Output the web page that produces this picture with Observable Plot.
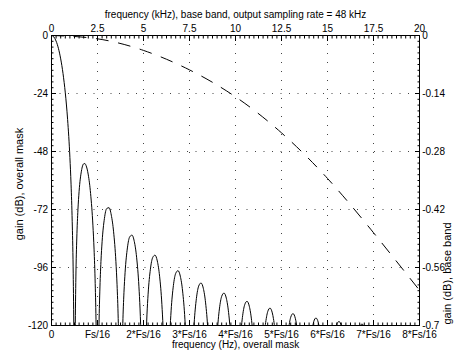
<!DOCTYPE html>
<html><head><meta charset="utf-8">
<script src="https://cdn.jsdelivr.net/npm/d3@7"></script>
<script src="https://cdn.jsdelivr.net/npm/@observablehq/plot@0.6"></script>
<style>body{margin:0;background:#fff}</style>
</head><body><div id="chart"></div>
<script>
// overall mask: frequency in units of Fs/32 (0..16 = 0..Fs/2), gain in dB
const maskU = [
  0,0.1,0.2,0.3,0.4,0.5,0.6,0.7,0.8,0.85,0.9,0.94,0.97,1,
  1.03,1.06,1.1,1.15,1.2,1.3,1.4,1.45,1.5,1.6,1.7,1.8,1.85,1.9,1.94,1.97,2,
  2.03,2.06,2.1,2.15,2.2,2.3,2.4,2.5,2.6,2.7,2.8,2.85,2.9,2.94,3,
  3.06,3.1,3.15,3.2,3.3,3.4,3.5,3.6,3.7,3.8,3.85,3.9,4,
  4.1,4.15,4.2,4.3,4.4,4.5,4.6,4.7,4.8,4.85,4.9,5,
  5.1,5.15,5.2,5.3,5.4,5.5,5.6,5.7,5.8,5.85,6,
  6.15,6.2,6.3,6.4,6.5,6.6,6.7,6.8,6.85,7,
  7.2,7.25,7.3,7.4,7.5,7.6,7.7,7.75,7.8,8,
  8.2,8.25,8.3,8.4,8.5,8.6,8.7,8.75,8.8,9,
  9.25,9.3,9.35,9.4,9.5,9.6,9.65,9.7,9.75,10,
  10.25,10.3,10.35,10.4,10.5,10.6,10.65,10.7,10.75,11,
  11.3,11.35,11.4,11.45,11.5,11.55,11.6,11.65,11.7,12,
  12.3,12.35,12.4,12.45,12.5,12.55,12.6,12.65,12.7,13,
  13.35,13.4,13.45,13.5,13.55,13.6,13.65,14,
  14.5,15,15.5,16
];
const maskDb = [
  0,-0.57,-2.32,-5.30,-9.67,-15.68,-23.75,-34.72,-50.45,-61.52,-76.87,-95.75,-120.77,-160,
  -122.85,-99.91,-83.81,-71.99,-64.48,-56.15,-53.09,-52.99,-53.73,-57.70,-65.41,-78.47,-88.39,-102.67,-120.76,-145.22,-160,
  -146.25,-122.82,-106.10,-93.55,-85.35,-75.77,-71.61,-71.26,-74.33,-81.23,-93.57,-103.15,-117.09,-134.94,-160,
  -136.24,-119.27,-106.43,-97.97,-87.90,-83.32,-82.61,-85.24,-91.74,-103.73,-113.15,-126.95,-160,
  -128.61,-115.64,-107.04,-96.71,-91.86,-90.89,-93.31,-99.61,-111.38,-120.70,-134.40,-160,
  -135.68,-122.63,-113.95,-103.45,-98.44,-97.30,-99.58,-105.74,-117.37,-126.62,-160,
  -128.16,-119.42,-108.80,-103.67,-102.41,-104.59,-110.65,-122.18,-131.38,-160,
  -123.85,-117.63,-113.15,-107.92,-106.58,-108.68,-114.66,-119.52,-126.12,-160,
  -127.48,-121.22,-116.70,-111.41,-109.99,-112.03,-117.94,-122.77,-129.34,-160,
  -124.18,-119.63,-116.41,-114.28,-112.80,-114.78,-117.17,-120.64,-125.44,-160,
  -126.58,-122.01,-118.77,-116.60,-115.08,-117.01,-119.38,-122.83,-127.60,-160,
  -123.92,-120.66,-118.47,-117.25,-116.90,-117.41,-118.79,-121.14,-124.56,-160,
  -125.42,-122.13,-119.93,-118.68,-118.32,-118.81,-120.17,-122.50,-125.90,-160,
  -123.23,-121.00,-119.74,-119.36,-119.83,-121.18,-123.48,-160,
  -120.03,-160,-120.37,-160
];
// base band response (kHz, dB)
const baseKHz = [0, 2.5, 5, 7.5, 10, 12.5, 15, 17.5, 20];
const baseDb  = [0, -0.008, -0.036, -0.083, -0.148, -0.235, -0.345, -0.476, -0.615];

const bottomTicks  = [0, 2, 4, 6, 8, 10, 12, 14, 16];
const bottomLabels = ["0","Fs/16","2*Fs/16","3*Fs/16","4*Fs/16","5*Fs/16","6*Fs/16","7*Fs/16","8*Fs/16"];
const topKHz    = [0, 2.5, 5, 7.5, 10, 12.5, 15, 17.5, 20];
const topLabels = ["0","2.5","5","7.5","10","12.5","15","17.5","20"];
const leftTicks  = [0, -24, -48, -72, -96, -120];
const leftLabels = ["0","-24","-48","-72","-96","-120"];
const rightDb     = [0, -0.14, -0.28, -0.42, -0.56, -0.7];
const rightLabels = ["0","-0.14","-0.28","-0.42","-0.56","-0.7"];

const titleText  = "frequency (kHz), base band, output sampling rate = 48 kHz";
const xLabelText = "frequency (Hz), overall mask";
const yLabelText = "gain (dB), overall mask";
const y2LabelText = "gain (dB), base band";

const uMax = 16, kHzMax = 20, dbMin = -120, baseMin = -0.7;
const kToU = k => k / kHzMax * uMax;
const bToY = d => d / baseMin * dbMin;

const mask = maskU.map((u, i) => ({u, db: maskDb[i]}));
const base = baseKHz.map((k, i) => ({u: kToU(k), y: bToY(baseDb[i])}));
const topU = topKHz.map(kToU);
const rightY = rightDb.map(bToY);

const minorX = d3.range(0, 16.0001, 0.2).filter(v => Math.abs(v/2 - Math.round(v/2)) > 1e-6);
const minorY = d3.range(-120, 0.0001, 2.4).filter(v => Math.abs(v/24 - Math.round(v/24)) > 1e-6);
const gridX = bottomTicks.slice(1, -1);
const gridY = leftTicks.slice(1, -1);

const idx = (arr, v) => arr.findIndex(a => Math.abs(a - v) < 1e-6);

const chart = Plot.plot({
  width: 454, height: 350,
  marginLeft: 51, marginRight: 35, marginTop: 35, marginBottom: 25,
  style: {fontFamily: "'Liberation Sans', Arial, Helvetica, sans-serif", fontSize: "10px", background: "white", color: "black"},
  x: {domain: [0, uMax], axis: null},
  y: {domain: [dbMin, 0], axis: null},
  marks: [
    Plot.ruleX(gridX, {stroke: "#444", strokeDasharray: "1,8"}),
    Plot.ruleY(gridY, {stroke: "#444", strokeDasharray: "1,7.5"}),
    Plot.line(base, {x: "u", y: "y", curve: "natural", stroke: "black", strokeWidth: 1, strokeDasharray: "12,10.5", clip: true}),
    Plot.line(mask, {x: "u", y: "db", curve: "monotone-x", stroke: "black", strokeWidth: 1, clip: true}),
    Plot.frame({stroke: "black"}),
    Plot.axisX({anchor: "bottom", ticks: bottomTicks, tickFormat: d => bottomLabels[idx(bottomTicks, d)], tickSize: -5, tickPadding: 10, label: null}),
    Plot.axisX({anchor: "top", ticks: topU, tickFormat: d => topLabels[idx(topU, d)], tickSize: -5, tickPadding: 8.3, label: null}),
    Plot.axisY({anchor: "left", ticks: leftTicks, tickFormat: d => leftLabels[idx(leftTicks, d)], tickSize: -5, tickPadding: 8.5, label: null}),
    Plot.axisY({anchor: "right", ticks: rightY, tickFormat: d => rightLabels[idx(rightY, d)], tickSize: -5, tickPadding: 7.7, label: null}),
    Plot.axisX({anchor: "bottom", ticks: minorX, tickSize: -2.5, fill: "none", label: null}),
    Plot.axisX({anchor: "top", ticks: minorX, tickSize: -2.5, fill: "none", label: null}),
    Plot.axisY({anchor: "left", ticks: minorY, tickSize: -2.5, fill: "none", label: null}),
    Plot.axisY({anchor: "right", ticks: minorY, tickSize: -2.5, fill: "none", label: null}),
    Plot.text([titleText], {frameAnchor: "top", dy: -21, lineAnchor: "middle", textAnchor: "middle", fill: "black"}),
    Plot.text([xLabelText], {frameAnchor: "bottom", dy: 19.5, lineAnchor: "middle", textAnchor: "middle", fill: "black"}),
    Plot.text([yLabelText], {frameAnchor: "left", dx: -31.6, dy: 3.5, rotate: -90, lineAnchor: "middle", textAnchor: "middle", fontSize: 11, fill: "black"}),
    Plot.text([y2LabelText], {frameAnchor: "right", dx: 28, dy: 93, rotate: -90, lineAnchor: "middle", textAnchor: "middle", fontSize: 11, fill: "black"})
  ]
});
document.getElementById("chart").appendChild(chart);
</script>
</body></html>
